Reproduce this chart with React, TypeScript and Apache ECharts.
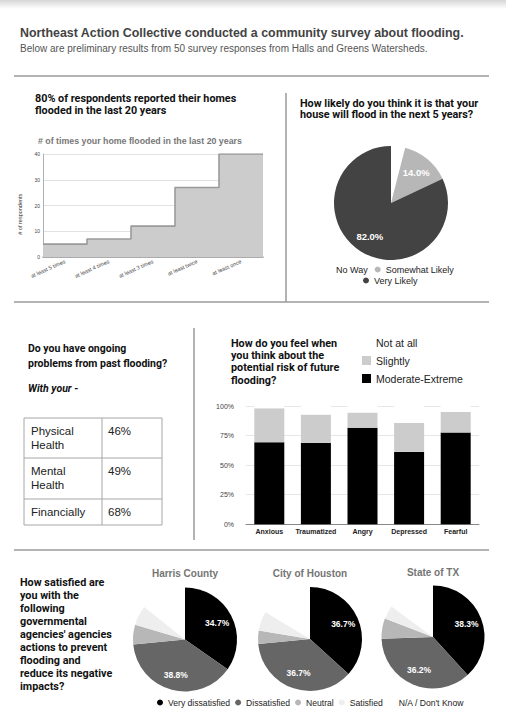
import React, { useEffect, useRef } from 'react';
import * as echarts from 'echarts';

// ---------------- data ----------------
const floodCategories = ['at least 5 times', 'at least 4 times', 'at least 3 times', 'at least twice', 'at least once'];
const floodRespondents = [5, 7, 12, 27, 40];

const likelyLabels = ['No Way', 'Somewhat Likely', 'Very Likely'];
const likelyValues = [4, 14, 82];

const problemAreas = ['Physical\nHealth', 'Mental\nHealth', 'Financially'];
const problemShares = ['46%', '49%', '68%'];

const feelings = ['Anxious', 'Traumatized', 'Angry', 'Depressed', 'Fearful'];
const moderateExtreme = [69.4, 68.8, 81.6, 61.2, 77.6];
const slightly = [28.6, 24.0, 12.9, 24.5, 17.4];
const notAtAll = [2.0, 7.2, 5.5, 14.3, 5.0];

const agencies = ['Harris County', 'City of Houston', 'State of TX'];
const satisfactionLabels = ['Very dissatisfied', 'Dissatisfied', 'Neutral', 'Satisfied', "N/A / Don't Know"];
const harrisCounty = [34.7, 38.8, 6.1, 6.1, 14.3];
const cityOfHouston = [36.7, 36.7, 4.1, 6.1, 16.3];
const stateOfTX = [38.3, 36.2, 6.4, 4.3, 14.9];
const agencyValues = [harrisCounty, cityOfHouston, stateOfTX];

const pageTitle = 'Northeast Action Collective conducted a community survey about flooding.';
const pageSubtitle = 'Below are preliminary results from 50 survey responses from Halls and Greens Watersheds.';
const q1 = '80% of respondents reported their homes\nflooded in the last 20 years';
const q1Chart = '# of times your home flooded in the last 20 years';
const q1Axis = '# of respondents';
const q2 = 'How likely do you think it is that your\nhouse will flood in the next 5 years?';
const q3 = 'Do you have ongoing\nproblems from past flooding?';
const q3Sub = 'With your -';
const q4 = 'How do you feel when\nyou think about the\npotential risk of future\nflooding?';
const q5 = "How satisfied are\nyou with the\nfollowing\ngovernmental\nagencies' agencies\nactions to prevent\nflooding and\nreduce its negative\nimpacts?";

// ---------------- styles ----------------
const SANS = '"Liberation Sans", Arial, sans-serif';
const HEAD = 'Roboto, "Liberation Sans", sans-serif';
const likelyColors = ['#ffffff', '#b7b7b7', '#434343'];
const satisfactionColors = ['#000000', '#666666', '#b7b7b7', '#eeeeee', '#ffffff'];
const pieCenters = [[185, 639.5], [310, 639], [433, 637]];
const pieRadii = [52, 52, 51.5];

function txt(text: string, x: number, yCenter: number, size: number, o: any = {}) {
  const lh = o.lh || size * 1.2;
  return {
    type: 'text',
    x,
    y: yCenter - lh / 2,
    rotation: o.rotation || 0,
    silent: true,
    z: 10,
    style: {
      text,
      fontSize: size,
      fontFamily: o.family || SANS,
      fontWeight: o.weight || 'normal',
      fontStyle: o.style || 'normal',
      fill: o.color || '#222',
      lineHeight: lh,
      textAlign: o.align || 'left',
      textVerticalAlign: 'top',
    },
  };
}

function hline(x1: number, x2: number, y: number, color = '#9a9a9a', w = 1.5) {
  return { type: 'line', silent: true, z: 5, shape: { x1, y1: y, x2, y2: y }, style: { stroke: color, lineWidth: w } };
}
function vline(x: number, y1: number, y2: number, color = '#9a9a9a', w = 1.5) {
  return { type: 'line', silent: true, z: 5, shape: { x1: x, y1, x2: x, y2 }, style: { stroke: color, lineWidth: w } };
}

function pieWithLabels(id: string, labels: string[], values: number[], colors: string[], center: number[], r: number, fontSize: number, minAngle: number) {
  return [
    {
      type: 'pie',
      id: id,
      name: id,
      center,
      radius: [0, r],
      startAngle: 90,
      silent: true,
      label: { show: false },
      labelLine: { show: false },
      itemStyle: { borderWidth: 0 },
      data: labels.map((n, i) => ({ name: n, value: values[i], itemStyle: { color: colors[i] } })),
    },
    {
      type: 'pie',
      id: id + '-labels',
      name: id + '-labels',
      center,
      radius: [r * 0.28, r],
      startAngle: 90,
      silent: true,
      z: 3,
      minShowLabelAngle: minAngle,
      itemStyle: { color: 'rgba(0,0,0,0)', borderWidth: 0 },
      labelLine: { show: false },
      label: {
        show: true,
        position: 'inside',
        color: '#ffffff',
        fontWeight: 'bold',
        fontFamily: SANS,
        fontSize,
        formatter: (p: any) => Number(p.value).toFixed(1) + '%',
      },
      data: labels.map((n, i) => ({ name: n, value: values[i] })),
    },
  ];
}

export default function App() {
  const ref = useRef<HTMLDivElement>(null);

  useEffect(() => {
    if (!ref.current) return;
    const chart = echarts.init(ref.current, undefined, { renderer: 'svg' });

    const stepData = floodRespondents
      .map((v, i) => [i, v])
      .concat([[floodRespondents.length, floodRespondents[floodRespondents.length - 1]]]);

    const graphic: any[] = [
      {
        type: 'rect',
        silent: true,
        shape: { x: 0, y: 0, width: 506, height: 9 },
        style: {
          fill: new echarts.graphic.LinearGradient(0, 0, 0, 1, [
            { offset: 0, color: '#d6d6d6' },
            { offset: 1, color: '#ffffff' },
          ]),
        },
      },
      txt(pageTitle, 20, 33, 12.4, { weight: 'bold', color: '#434343' }),
      txt(pageSubtitle, 20, 48.5, 10, { color: '#555555' }),
      hline(14, 489, 76),
      txt(q1, 35, 98.5, 10.8, { family: HEAD, weight: 'bold', color: '#111', lh: 12.4 }),
      vline(286, 93, 302),
      txt(q2, 300, 103, 10.8, { family: HEAD, weight: 'bold', color: '#111', lh: 11.5 }),
      txt(q1Chart, 38, 141.5, 8.8, { weight: 'bold', color: '#777777' }),
      txt(q1Axis, 17, 217.5, 5.5, { color: '#333', rotation: Math.PI / 2, align: 'center' }),
      hline(14, 489, 302),
      txt(q3, 28, 348, 10.5, { family: HEAD, weight: 'bold', color: '#111', lh: 15 }),
      txt(q3Sub, 28, 388, 10.5, { family: HEAD, weight: 'bold', style: 'italic', color: '#111' }),
      vline(194, 328, 540),
      txt(q4, 231, 343, 10.8, { family: HEAD, weight: 'bold', color: '#111', lh: 12.4 }),
      hline(14, 489, 550),
      txt(q5, 20, 582.7, 10.8, { family: HEAD, weight: 'bold', color: '#111', lh: 13 }),
    ];

    // table
    const rowTops = [418, 458, 499, 525];
    const tableLeft = 24, tableRight = 162, tableDiv = 102;
    graphic.push({
      type: 'rect', silent: true, z: 5,
      shape: { x: tableLeft, y: rowTops[0], width: tableRight - tableLeft, height: rowTops[3] - rowTops[0] },
      style: { fill: 'none', stroke: '#a6a6a6', lineWidth: 1 },
    });
    graphic.push(vline(tableDiv, rowTops[0], rowTops[3], '#a6a6a6', 1));
    graphic.push(hline(tableLeft, tableRight, rowTops[1], '#a6a6a6', 1));
    graphic.push(hline(tableLeft, tableRight, rowTops[2], '#a6a6a6', 1));
    problemAreas.forEach((a, i) => {
      const yc = problemAreas[i].includes('\n') ? rowTops[i] + 13 : (rowTops[i] + rowTops[i + 1]) / 2;
      graphic.push(txt(a, 31, yc, 11.5, { lh: 14, color: '#222' }));
      graphic.push(txt(problemShares[i], 108, yc, 11.5, { lh: 14, color: '#222' }));
    });

    // pie titles
    agencies.forEach((a, i) => {
      graphic.push(txt(a, pieCenters[i][0], i === 2 ? 572 : 573, 10, { weight: 'bold', color: '#757575', align: 'center' }));
    });

    const series: any[] = [
      {
        type: 'line',
        name: 'flooded',
        xAxisIndex: 1,
        yAxisIndex: 0,
        step: 'end',
        symbol: 'none',
        silent: true,
        lineStyle: { color: '#9a9a9a', width: 1.6 },
        areaStyle: { color: '#cccccc', opacity: 1 },
        data: stepData,
      },
      ...pieWithLabels('likely', likelyLabels, likelyValues, likelyColors, [391, 203], 57, 9.5, 30),
      {
        type: 'bar', name: 'Moderate-Extreme', stack: 'feel', xAxisIndex: 2, yAxisIndex: 1, barWidth: 30,
        itemStyle: { color: '#000000' }, silent: true, data: moderateExtreme,
      },
      {
        type: 'bar', name: 'Slightly', stack: 'feel', xAxisIndex: 2, yAxisIndex: 1, barWidth: 30,
        itemStyle: { color: '#cccccc' }, silent: true, data: slightly,
      },
      {
        type: 'bar', name: 'Not at all', stack: 'feel', xAxisIndex: 2, yAxisIndex: 1, barWidth: 30,
        itemStyle: { color: '#ffffff' }, silent: true, data: notAtAll,
      },
    ];
    agencies.forEach((a, i) => {
      series.push(...pieWithLabels(a, satisfactionLabels, agencyValues[i], satisfactionColors, pieCenters[i], pieRadii[i], 8.5, 80));
    });

    const option: any = {
      animation: false,
      backgroundColor: '#ffffff',
      textStyle: { fontFamily: SANS },
      graphic,
      grid: [
        { left: 43, top: 154, width: 220, height: 103 },
        { left: 246, top: 406, width: 233, height: 118.3 },
      ],
      xAxis: [
        {
          type: 'category', gridIndex: 0, data: floodCategories, boundaryGap: true, position: 'bottom',
          axisLine: { lineStyle: { color: '#999999', width: 1.5 } },
          axisTick: { show: false },
          axisLabel: { interval: 0, rotate: 24, fontSize: 5.5, color: '#444', margin: 4 },
        },
        { type: 'value', gridIndex: 0, min: 0, max: floodCategories.length, show: false, position: 'bottom' },
        {
          type: 'category', gridIndex: 1, data: feelings,
          axisLine: { lineStyle: { color: '#888888', width: 1 } },
          axisTick: { show: false },
          axisLabel: { interval: 0, fontSize: 7, fontWeight: 'bold', color: '#222', margin: 4 },
        },
      ],
      yAxis: [
        {
          type: 'value', gridIndex: 0, min: 0, max: 40, interval: 10,
          axisLine: { show: true, lineStyle: { color: '#b0b0b0', width: 1 } },
          axisTick: { show: false },
          axisLabel: { fontSize: 5, color: '#444', margin: 3 },
          splitLine: { lineStyle: { color: '#e2e2e2', width: 1 } },
        },
        {
          type: 'value', gridIndex: 1, min: 0, max: 100, interval: 25,
          axisLine: { show: false },
          axisTick: { show: false },
          axisLabel: { fontSize: 7, color: '#444', margin: 12, formatter: '{value}%' },
          splitLine: { lineStyle: { color: '#e6e6e6', width: 1 } },
        },
      ],
      legend: [
        {
          data: [
            { name: likelyLabels[0], itemStyle: { color: likelyColors[0] } },
            { name: likelyLabels[1], itemStyle: { color: likelyColors[1] } },
          ],
          left: 325, top: 265, padding: 0, icon: 'circle', itemWidth: 6, itemHeight: 6, itemGap: 7,
          selectedMode: false,
          textStyle: { fontSize: 9, color: '#222', fontFamily: SANS, padding: [0, 0, 0, 0] },
        },
        {
          data: [{ name: likelyLabels[2], itemStyle: { color: likelyColors[2] } }],
          left: 363, top: 276, padding: 0, icon: 'circle', itemWidth: 6, itemHeight: 6,
          selectedMode: false,
          textStyle: { fontSize: 9, color: '#222', fontFamily: SANS },
        },
        {
          data: [
            { name: 'Not at all', itemStyle: { color: '#ffffff' } },
            { name: 'Slightly', itemStyle: { color: '#cccccc' } },
            { name: 'Moderate-Extreme', itemStyle: { color: '#000000' } },
          ],
          orient: 'vertical', left: 362, top: 337, padding: 0, icon: 'rect', itemWidth: 9, itemHeight: 9, itemGap: 7,
          selectedMode: false,
          textStyle: { fontSize: 10.5, color: '#222', fontFamily: SANS },
        },
        {
          data: satisfactionLabels.map((n, i) => ({ name: n, itemStyle: { color: satisfactionColors[i] } })),
          left: 157, top: 698, padding: 0, icon: 'circle', itemWidth: 6, itemHeight: 6, itemGap: 5,
          selectedMode: false,
          textStyle: { fontSize: 8.6, color: '#222', fontFamily: SANS },
        },
      ],
      series,
    };

    chart.setOption(option);
    return () => chart.dispose();
  }, []);

  return (
    <div style={{ position: 'fixed', left: 0, top: 0, width: 506, height: 728, background: '#fff' }}>
      <div ref={ref} style={{ width: 506, height: 728 }} />
    </div>
  );
}
